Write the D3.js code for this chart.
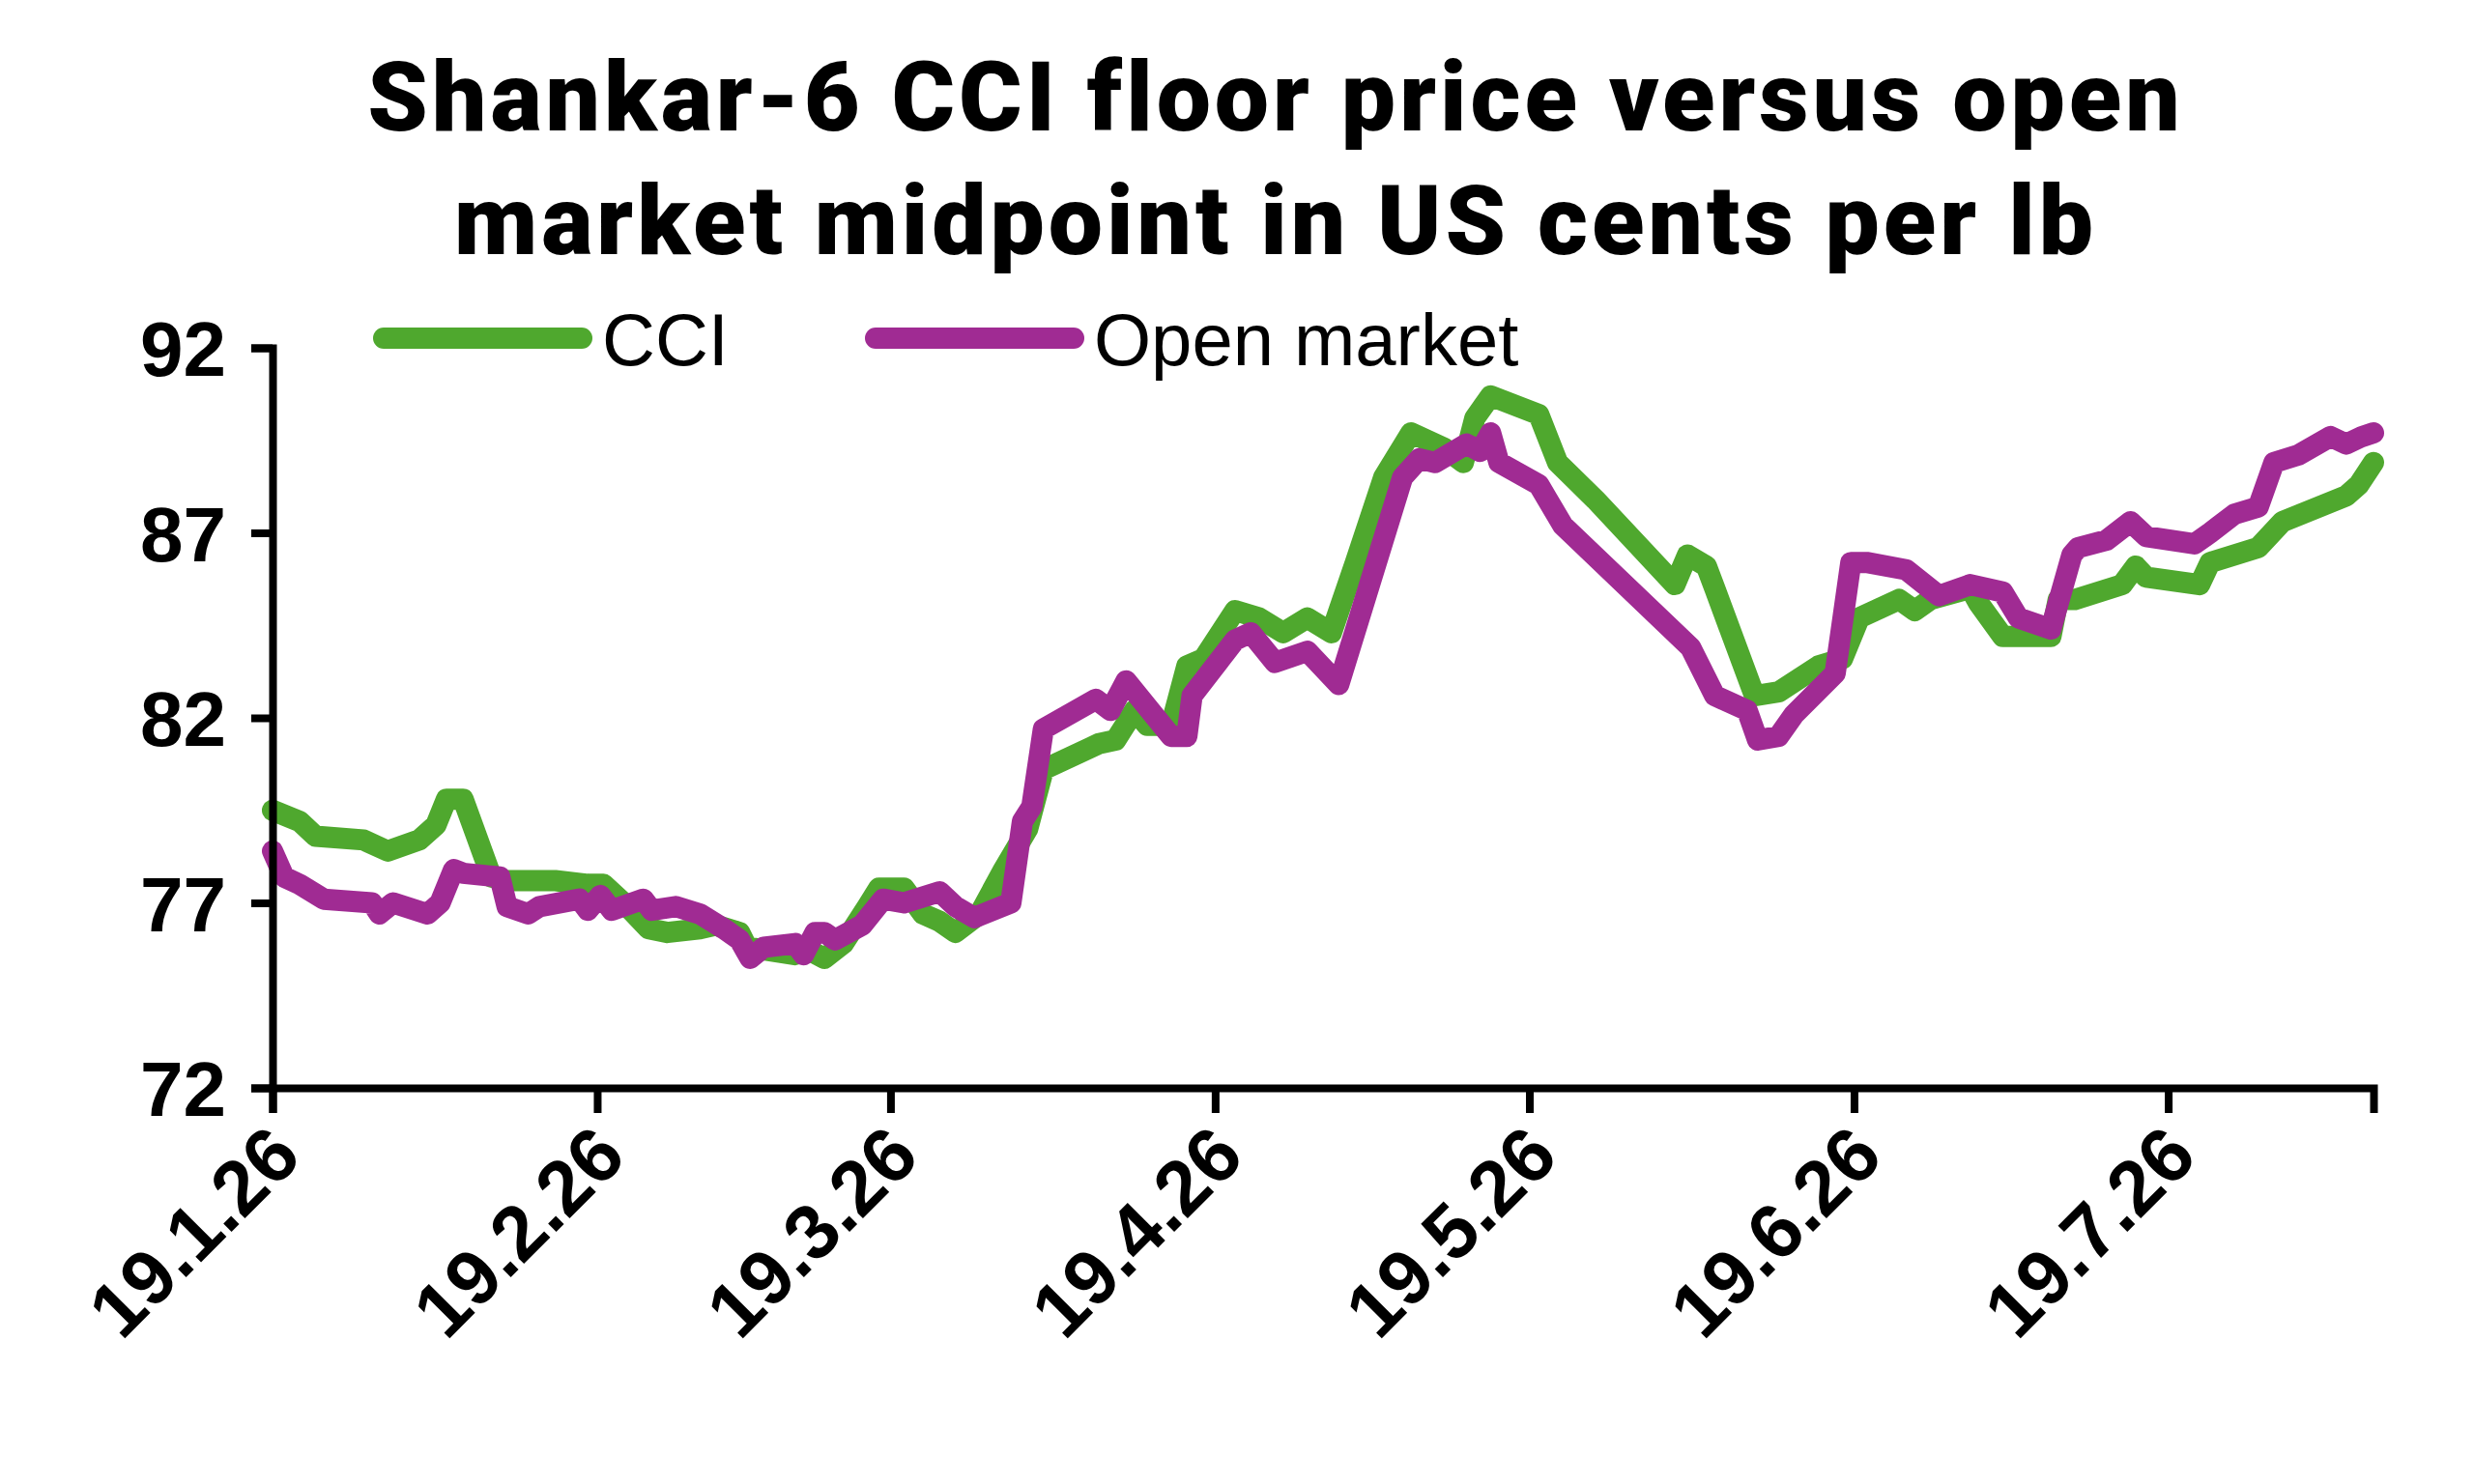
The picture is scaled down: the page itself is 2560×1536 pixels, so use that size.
<!DOCTYPE html>
<html>
<head>
<meta charset="utf-8">
<script src="https://d3js.org/d3.v7.min.js"></script>
<style>
  body { margin: 0; background: #fff; }
  .tick text { font-family: "Liberation Sans", Arial, sans-serif; }
</style>
</head>
<body>
<svg width="2560" height="1536"></svg>
<script>
// data: days after 19 Jan 2026, price in US cents/lb
var startDate = new Date(2026, 0, 19);
var cciDays = [0,2.6,4.1,8.7,11,14,15.6,16.6,18.2,20.9,22.1,27,30.1,31.6,33.9,35.9,37.7,40.8,42.3,44.6,45.3,49.9,50.7,52.7,54.5,56.8,57.9,60.3,62.1,63.7,65.2,67.5,69.8,72.1,73.6,78.9,80.5,82.3,83.5,85.8,87.3,88.9,91.9,94.2,96.5,98.8,101.1,103.4,106.1,108.7,111.8,113.7,114.8,116.3,120.9,122.7,126.3,133.9,135.1,136.9,137.7,141.5,143.8,147.6,149.9,151.5,155.3,156.8,158.3,162.1,162.9,165.2,169.8,170.5,172.1,176.6,177.9,178.9,184,185,189.6,191.9,198,199.2,200.6];
var cciValues = [79.5,79.2,78.8,78.7,78.4,78.7,79.1,79.8,79.8,77.7,77.6,77.6,77.5,77.5,76.9,76.3,76.2,76.3,76.4,76.2,75.8,75.6,75.8,75.5,75.9,76.9,77.4,77.4,76.7,76.5,76.2,76.7,77.9,79.0,80.6,81.3,81.4,82.2,81.8,81.8,83.4,83.6,84.9,84.7,84.3,84.7,84.3,86.2,88.5,89.7,89.3,88.9,90.1,90.7,90.2,88.9,87.9,85.6,86.4,86.1,85.5,82.6,82.7,83.4,83.6,84.7,85.2,84.9,85.2,85.5,85.1,84.2,84.2,85.2,85.2,85.6,86.1,85.8,85.6,86.2,86.6,87.3,88.0,88.3,88.9];
var openDays = [0,1.1,2.6,4.9,9.5,10.2,11.5,14.8,16,17.3,18.2,21.7,22.4,24.4,25.5,29.3,30.1,31.3,32.4,35.4,36.2,38.5,40.8,43.1,44.6,45.6,46.9,49.9,50.7,51.8,52.7,53.7,56.3,58.3,60.3,63.7,65.2,67,70.5,71.6,72.5,73.6,78.6,80,81.5,85.8,87.3,87.8,91.9,93.4,95.7,98.8,101.8,107.9,109.5,111,114,115.3,116.3,117.1,120.9,123.2,135.4,137.7,140.8,141.8,143.8,145.3,149.2,150.7,152.2,156,159.1,162.1,165.2,166.7,169.8,171.8,172.4,175.1,177.4,178.9,183.5,185,187.3,189.6,191.1,193.4,196.5,198,199.5,200.6];
var openValues = [78.4,77.7,77.5,77.1,77.0,76.7,77.0,76.7,77.0,77.9,77.8,77.7,76.9,76.7,76.9,77.1,76.8,77.2,76.8,77.1,76.8,76.9,76.7,76.3,76.0,75.5,75.8,75.9,75.6,76.2,76.2,76.0,76.4,77.1,77.0,77.3,76.9,76.6,77.0,79.2,79.6,81.7,82.5,82.2,83.0,81.5,81.5,82.6,84.1,84.3,83.5,83.8,82.9,88.5,89.0,88.9,89.4,89.2,89.7,88.9,88.3,87.2,83.9,82.6,82.2,81.4,81.5,82.1,83.2,86.2,86.2,86.0,85.3,85.6,85.4,84.7,84.4,86.4,86.6,86.8,87.3,86.9,86.7,87.0,87.5,87.7,88.9,89.1,89.6,89.4,89.6,89.7];
var yTicks = [72, 77, 82, 87, 92];
var xTickLabels = ["19.1.26","19.2.26","19.3.26","19.4.26","19.5.26","19.6.26","19.7.26"];

var svg = d3.select("svg");
var margin = {left: 282, right: 104, top: 360, bottom: 410};
var width = 2560 - margin.left - margin.right,
    height = 1536 - margin.top - margin.bottom;

function toDate(d) { return new Date(startDate.getTime() + d * 864e5); }
var cci = cciDays.map(function(d, i) { return {date: toDate(d), value: cciValues[i]}; });
var open = openDays.map(function(d, i) { return {date: toDate(d), value: openValues[i]}; });
var tickDates = xTickLabels.map(function(s) {
  var p = s.split(".");
  return new Date(2000 + +p[2], +p[1] - 1, +p[0]);
});

var x = d3.scaleTime().domain([startDate, toDate(200.6)]).range([0, width]);
var y = d3.scaleLinear().domain([72, 92]).range([height, 0]);

var g = svg.append("g").attr("transform", "translate(" + margin.left + "," + margin.top + ")");

// title
svg.append("text")
  .attr("x", 1320).attr("text-anchor", "middle")
  .style("font-family", "Roboto, sans-serif").style("font-weight", 900).style("font-size", "100px")
  .style("letter-spacing", "4px")
  .selectAll("tspan").data(["Shankar-6 CCI floor price versus open", "market midpoint in US cents per lb"])
  .enter().append("tspan")
  .attr("x", 1320).attr("y", function(d, i) { return 135 + i * 128; })
  .text(function(d) { return d; });

var line = d3.line().x(function(d) { return x(d.date); }).y(function(d) { return y(d.value); });

g.append("path").datum(cci).attr("d", line)
  .attr("fill", "none").attr("stroke", "#4fa82e").attr("stroke-width", 22)
  .attr("stroke-linejoin", "round").attr("stroke-linecap", "round");
g.append("path").datum(open).attr("d", line)
  .attr("fill", "none").attr("stroke", "#a02b93").attr("stroke-width", 22)
  .attr("stroke-linejoin", "round").attr("stroke-linecap", "round");

// axes
var yAxis = g.append("g")
  .call(d3.axisLeft(y).tickValues(yTicks).tickSize(22).tickPadding(26).tickFormat(d3.format("d")));
var xAxis = g.append("g").attr("transform", "translate(0," + height + ")")
  .call(d3.axisBottom(x).tickValues(tickDates).tickSize(26).tickFormat(function(d, i) { return xTickLabels[i]; }));

[yAxis, xAxis].forEach(function(a) {
  a.select(".domain").attr("stroke", "#000").attr("stroke-width", 8);
  a.selectAll(".tick line").attr("stroke", "#000").attr("stroke-width", 8);
  a.selectAll(".tick text").attr("fill", "#000").style("font-size", "80px").style("font-weight", "bold");
});
yAxis.selectAll(".tick text").attr("dy", "0.36em");
xAxis.selectAll(".tick text")
  .attr("text-anchor", "end").attr("dy", "0").attr("y", 0)
  .attr("transform", "translate(32,74) rotate(-45)");

// legend
var legend = [{name: "CCI", color: "#4fa82e", x: 397}, {name: "Open market", color: "#a02b93", x: 906}];
var lg = svg.selectAll(".legend").data(legend).enter().append("g");
lg.append("line")
  .attr("x1", function(d) { return d.x; }).attr("x2", function(d) { return d.x + 205; })
  .attr("y1", 350).attr("y2", 350)
  .attr("stroke", function(d) { return d.color; }).attr("stroke-width", 22).attr("stroke-linecap", "round");
lg.append("text")
  .attr("x", function(d) { return d.x + 226; }).attr("y", 378)
  .style("font-family", "Liberation Sans, Arial, sans-serif").style("font-size", "76px")
  .text(function(d) { return d.name; });
</script>
</body>
</html>
